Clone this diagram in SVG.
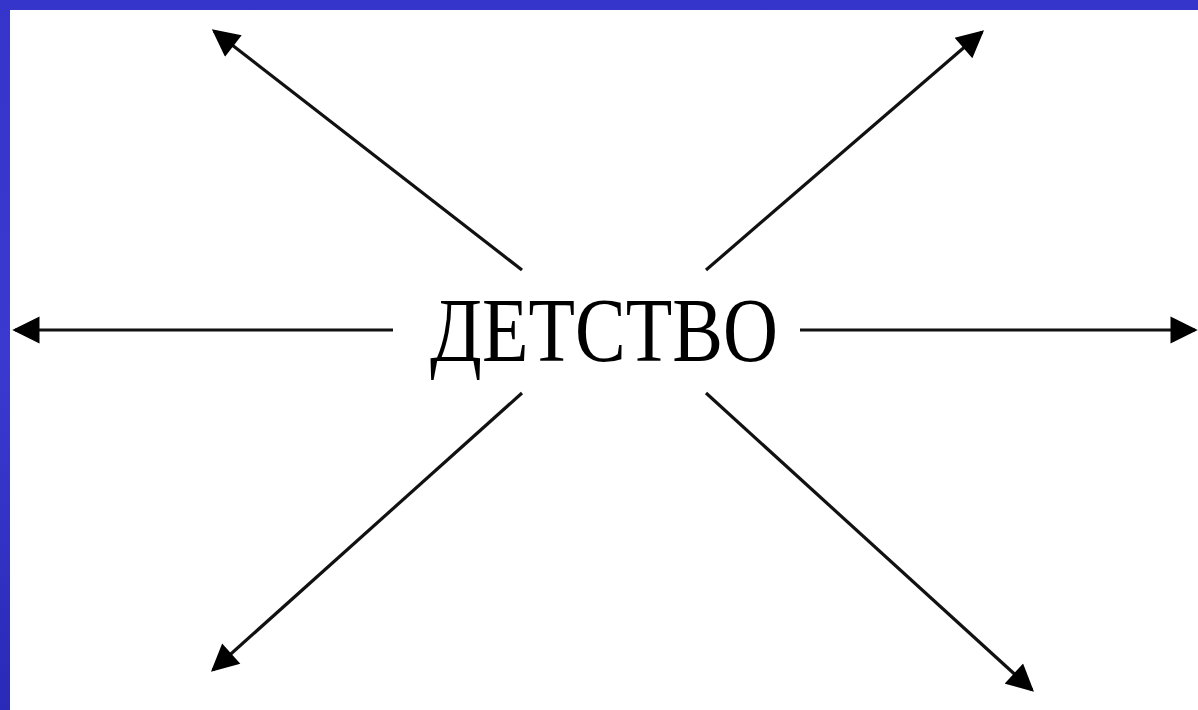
<svg xmlns="http://www.w3.org/2000/svg" width="1198" height="710" viewBox="0 0 1198 710">
<defs>
<linearGradient id="bg" x1="0" y1="0" x2="0" y2="1">
<stop offset="0" stop-color="#3535cc"/>
<stop offset="0.5" stop-color="#3a3ad0"/>
<stop offset="1" stop-color="#2a2ab8"/>
</linearGradient>
<marker id="ah" viewBox="0 0 10 10" refX="9" refY="5" markerWidth="9" markerHeight="8.5" markerUnits="strokeWidth" orient="auto">
<path d="M0,0 L10,5 L0,10 Z" fill="#000"/>
</marker>
<style>
.c{stroke:#111;stroke-width:3.2;fill:none;marker-end:url(#ah)}
.t{font-family:"Liberation Serif","Times New Roman",serif;font-size:90px;fill:#000}
</style>
</defs>
<rect width="1198" height="710" fill="url(#bg)"/>
<rect x="10" y="10" width="1188" height="700" fill="#fff"/>
<g id="connectors">
<line class="c" x1="522" y1="270" x2="214" y2="31"/>
<line class="c" x1="706" y1="270" x2="982" y2="32"/>
<line class="c" x1="393" y1="330" x2="15" y2="330"/>
<line class="c" x1="800" y1="330" x2="1195" y2="330"/>
<line class="c" x1="522" y1="393" x2="213" y2="670"/>
<line class="c" x1="706" y1="393" x2="1032" y2="690"/>
</g>
<g id="node-detstvo">
<text class="t" x="604" y="361" text-anchor="middle" textLength="348" lengthAdjust="spacingAndGlyphs">ДЕТСТВО</text>
</g>
</svg>
